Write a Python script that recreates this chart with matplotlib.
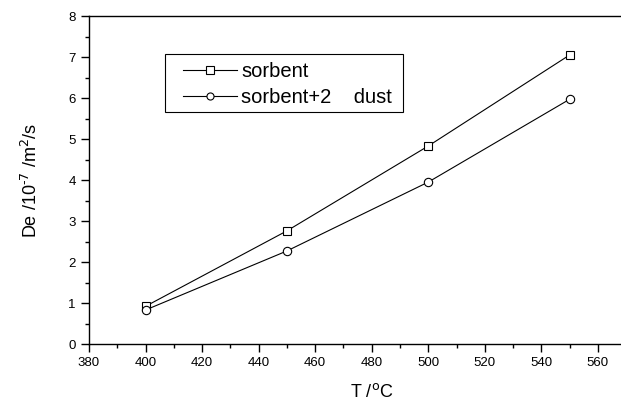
import matplotlib
matplotlib.use("Agg")
import matplotlib.pyplot as plt
from matplotlib.patches import Rectangle
from matplotlib.ticker import MultipleLocator

# data
T = [400, 450, 500, 550]
sorbent = [0.92, 2.76, 4.83, 7.05]
sorbent_dust = [0.83, 2.27, 3.95, 5.97]
labels = ["sorbent", "sorbent+2    dust"]
xticks = [380, 400, 420, 440, 460, 480, 500, 520, 540, 560]

plt.rcParams["font.family"] = ["Liberation Sans", "DejaVu Sans"]

W, H = 621, 412
fig = plt.figure(figsize=(W / 100, H / 100), dpi=100)
ax = fig.add_axes([0.1433, 0.165, 0.9105, 0.796])

ax.plot(T, sorbent, color="black", lw=0.8, marker="s", ms=6,
        mfc="white", mec="black", mew=0.8, label=labels[0])
ax.plot(T, sorbent_dust, color="black", lw=0.8, marker="o", ms=6,
        mfc="white", mec="black", mew=0.8, label=labels[1])

ax.set_xlim(380, 580)
ax.set_ylim(0, 8)
ax.set_xticks(xticks)
ax.xaxis.set_minor_locator(MultipleLocator(10))
ax.yaxis.set_major_locator(MultipleLocator(1))
ax.yaxis.set_minor_locator(MultipleLocator(0.5))
ax.tick_params(which="both", direction="out", top=False, right=False,
               labelsize=9.5, width=1.0)
ax.tick_params(which="major", length=6)
ax.tick_params(which="minor", length=3)
for s in ax.spines.values():
    s.set_linewidth(1.0)

ax.set_xlabel("T /$^{\\rm o}$C", fontsize=13, labelpad=10)
ax.set_ylabel("De /10$^{\\text{-7}}$ /m$^{\\rm 2}$/s", fontsize=13, labelpad=20)

# legend entries without frame, box drawn separately
leg = ax.legend(loc="upper left", bbox_to_anchor=(0.166, 0.86),
                borderaxespad=0, fontsize=14.5, handlelength=2.7,
                handletextpad=0.2, labelspacing=0.36, borderpad=0,
                markerscale=0.85, frameon=False)
fig.add_artist(Rectangle((165 / W, 1 - 112 / H), 238 / W, 58 / H,
                         transform=fig.transFigure, fill=False,
                         edgecolor="black", lw=0.8))

fig.savefig("out.png", dpi=100)
